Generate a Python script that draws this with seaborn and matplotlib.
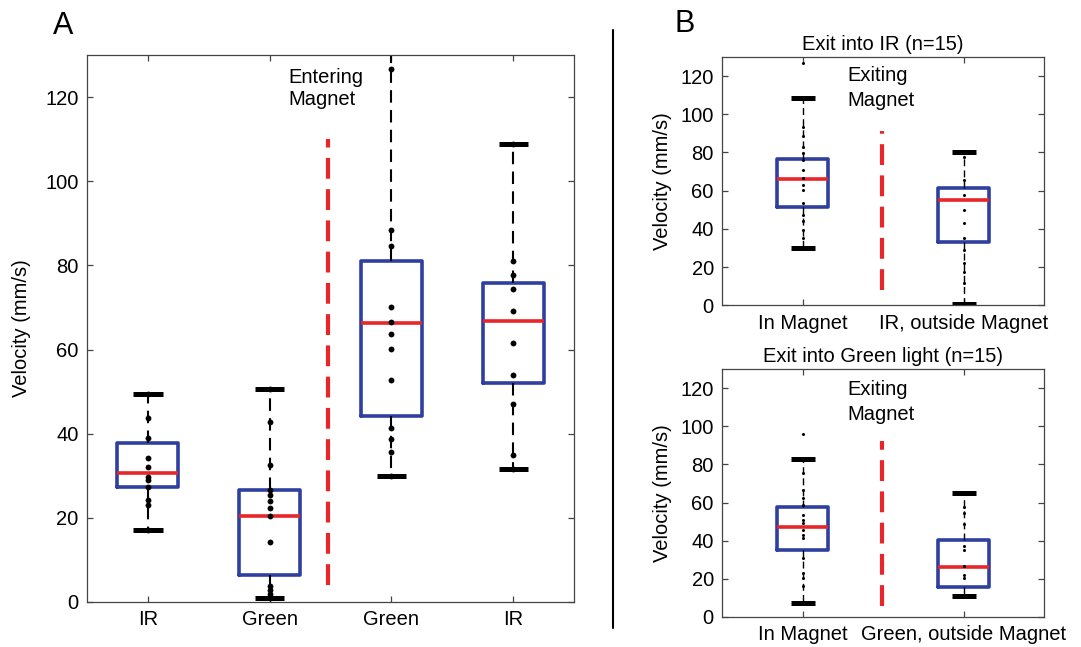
import numpy as np
import pandas as pd
import matplotlib.pyplot as plt
import matplotlib.lines as mlines
import seaborn as sns

sns.set_style("ticks")
plt.rcParams['font.family'] = ['Liberation Sans', 'DejaVu Sans']
plt.rcParams['text.color'] = 'black'
plt.rcParams['axes.labelcolor'] = 'black'

# ---- panel A data (velocity, mm/s) ----
a_labels = ["IR", "Green", "Green", "IR"]
a_q1 = [27.3, 6.4, 44.2, 52.0]
a_med = [30.6, 20.4, 66.2, 66.8]
a_q3 = [37.8, 26.6, 81.0, 75.8]
a_lo = [17.1, 0.9, 29.9, 31.6]
a_hi = [49.5, 50.5, 132.0, 108.8]
a_ir1 = [49.5, 43.7, 39.0, 34.2, 32.0, 29.7, 29.0, 27.3, 24.2, 23.0, 17.1]
a_green1 = [50.5, 42.8, 32.5, 26.6, 25.4, 24.0, 22.3, 20.4, 14.2, 3.8, 2.9, 1.9, 0.9]
a_green2 = [126.6, 88.4, 84.6, 70.0, 66.5, 63.7, 60.2, 52.7, 41.3, 38.7, 35.6, 29.9]
a_ir2 = [108.8, 81.0, 77.7, 74.3, 69.1, 61.5, 53.9, 47.0, 34.9, 31.6]

# ---- panel B top: exit into IR ----
bt_labels = ["In Magnet", "IR, outside Magnet"]
bt_q1 = [51.6, 33.2]
bt_med = [66.2, 55.2]
bt_q3 = [76.6, 61.5]
bt_lo = [30.0, 0.8]
bt_hi = [108.6, 80.4]
bt_in = [127.0, 93.6, 88.4, 83.1, 79.7, 76.2, 70.9, 66.6, 63.1, 60.5, 53.5, 47.4,
         43.9, 39.5, 35.2, 30.8]
bt_out = [80.4, 77.9, 65.7, 57.9, 50.0, 43.0, 35.2, 29.0, 22.1, 17.7, 11.6, 1.0]

# ---- panel B bottom: exit into green light ----
bb_labels = ["In Magnet", "Green, outside Magnet"]
bb_q1 = [34.9, 15.5]
bb_med = [47.4, 26.0]
bb_q3 = [57.4, 40.5]
bb_lo = [7.3, 11.2]
bb_hi = [82.7, 65.2]
bb_in = [96.0, 75.4, 66.6, 62.3, 58.8, 53.6, 51.0, 49.2, 45.7, 43.1, 41.4, 30.9,
         23.0, 20.4, 16.0]
bb_out = [57.9, 54.4, 48.7, 37.0, 35.2, 26.5, 22.1, 20.4]

BLUE = "#2f3f9f"
RED = "#e8262a"
FS = 14.5


def draw_panel(ax, labels, q1, med, q3, lo, hi, groups, width, capw,
               dot_size, whisk_lw, whisk_ls):
    stats = []
    for i in range(len(labels)):
        stats.append(dict(q1=q1[i], med=med[i], q3=q3[i], whislo=lo[i],
                          whishi=hi[i], fliers=[]))
    ax.bxp(stats, positions=range(len(labels)), widths=width, capwidths=capw,
           showfliers=False,
           boxprops=dict(color=BLUE, lw=2.6),
           medianprops=dict(color=RED, lw=2.6, solid_capstyle="butt"),
           whiskerprops=dict(color="k", lw=whisk_lw, linestyle=whisk_ls),
           capprops=dict(color="k", lw=3.6, solid_capstyle="butt"))
    df = pd.DataFrame({
        "pos": np.concatenate([[i] * len(g) for i, g in enumerate(groups)]),
        "v": np.concatenate(groups),
    })
    sns.stripplot(data=df, x="pos", y="v", native_scale=True, jitter=False,
                  color="k", size=dot_size, linewidth=0, ax=ax, zorder=5)
    ax.set_xlim(-0.5, len(labels) - 0.5)
    ax.set_ylim(0, 130)
    ax.set_xticks(range(len(labels)))
    ax.set_xticklabels(labels)
    ax.set_yticks(range(0, 121, 20))
    ax.set_xlabel("")
    ax.tick_params(direction="in", top=True, right=True, length=4,
                   width=0.9, color="#444444", labelcolor="black",
                   labelsize=FS, pad=6)
    for s in ax.spines.values():
        s.set_visible(True)
        s.set_color("#444444")
        s.set_linewidth(0.9)


fig = plt.figure(figsize=(10.81, 6.47), dpi=100)

# panel A
axA = fig.add_axes([0.0805, 0.0696, 0.4505, 0.8454])
draw_panel(axA, a_labels, a_q1, a_med, a_q3, a_lo, a_hi,
           [a_ir1, a_green1, a_green2, a_ir2], 0.5, 0.24, 4.2, 1.5, (0, (6, 3.5)))
axA.set_ylabel("Velocity (mm/s)", fontsize=FS, labelpad=10)
axA.plot([1.48, 1.48], [4, 110], color=RED, lw=3, linestyle=(0, (5, 2.5)))
axA.text(1.15, 127, "Entering\nMagnet", fontsize=FS, va="top", ha="left")

# panel B top
axB1 = fig.add_axes([0.668, 0.528, 0.298, 0.384])
draw_panel(axB1, bt_labels, bt_q1, bt_med, bt_q3, bt_lo, bt_hi,
           [bt_in, bt_out], 0.32, 0.15, 2.2, 1.0, (0, (5, 3)))
axB1.set_ylabel("Velocity (mm/s)", fontsize=FS, labelpad=6)
axB1.set_title("Exit into IR (n=15)", fontsize=FS, pad=5)
axB1.plot([0.49, 0.49], [8, 91], color=RED, lw=3, linestyle=(0, (5, 2.5)))
axB1.text(0.28, 125, "Exiting\nMagnet", fontsize=FS, va="top", ha="left",
          linespacing=1.35)

# panel B bottom
axB2 = fig.add_axes([0.668, 0.0464, 0.298, 0.3833])
draw_panel(axB2, bb_labels, bb_q1, bb_med, bb_q3, bb_lo, bb_hi,
           [bb_in, bb_out], 0.32, 0.15, 2.2, 1.0, (0, (5, 3)))
axB2.set_ylabel("Velocity (mm/s)", fontsize=FS, labelpad=6)
axB2.set_title("Exit into Green light (n=15)", fontsize=FS, pad=5)
axB2.plot([0.49, 0.49], [6, 92], color=RED, lw=3, linestyle=(0, (5, 2.5)))
axB2.text(0.28, 124, "Exiting\nMagnet", fontsize=FS, va="top", ha="left",
          linespacing=1.35)

# panel letters and divider
fig.text(0.049, 0.947, "A", fontsize=22, va="baseline", ha="left")
fig.text(0.624, 0.950, "B", fontsize=22, va="baseline", ha="left")
fig.add_artist(mlines.Line2D([0.567, 0.567], [0.029, 0.954], color="k", lw=1.5))

fig.savefig("out.png", dpi=100)
